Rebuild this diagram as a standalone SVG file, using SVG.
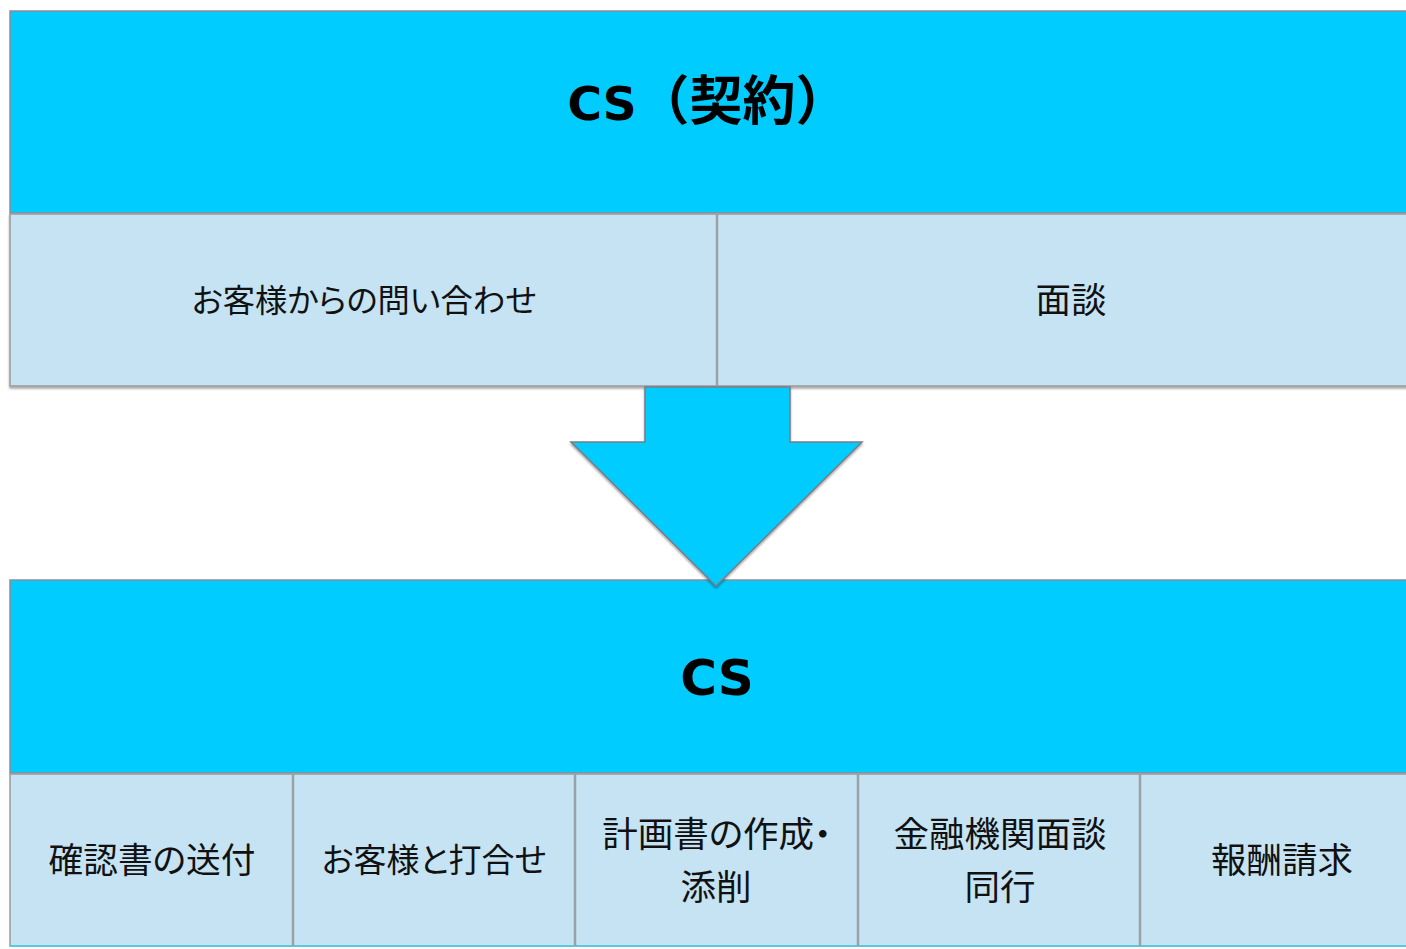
<svg xmlns="http://www.w3.org/2000/svg" width="1406" height="949" viewBox="0 0 1406 949">
<style>
.hdr{fill:#00CCFF;stroke:#8c8c9a;stroke-width:1.5}
.cell{fill:#C5E3F3;stroke:#9a9a9a;stroke-width:1.5}
.div{stroke:#9aa0a6;stroke-width:2.5}
.title{font-family:"DejaVu Sans","Noto Sans CJK JP",sans-serif;font-weight:bold;fill:#000;text-anchor:middle}
.cjk{font-family:"Noto Sans CJK JP",sans-serif}
.lbl{font-family:"Noto Sans CJK JP",sans-serif;font-size:35.5px;fill:#111;text-anchor:middle;font-feature-settings:"palt"}
.arrow{fill:#00CCFF;stroke:#7a7a86;stroke-width:1.5;stroke-linejoin:miter}
</style>
<defs>
<filter id="sh" x="-5%" y="-5%" width="110%" height="115%">
<feDropShadow dx="0" dy="2" stdDeviation="1" flood-color="#000" flood-opacity="0.35"/>
</filter>
</defs>
<rect width="1406" height="949" fill="#fff"/>
<g id="top-block">
<g id="top-header">
<rect class="hdr" x="10" y="11" width="1410" height="202"/>
<text class="title" x="708" y="120"><tspan style="font-size:47px">CS</tspan><tspan class="cjk" style="font-size:53px">（契約）</tspan></text>
</g>
<g id="top-row" filter="url(#sh)">
<rect class="cell" x="10" y="214" width="1410" height="172"/>
</g>
<line class="div" x1="717" y1="214" x2="717" y2="386"/>
<g id="inquiry"><text class="lbl" x="364" y="312" style="font-size:32.3px">お客様からの問い合わせ</text></g>
<g id="meeting"><text class="lbl" x="1071" y="313">面談</text></g>
</g>
<g id="bottom-block">
<g id="bottom-header">
<rect class="hdr" x="10" y="580" width="1410" height="193"/>
<text class="title" x="717" y="695" style="font-size:50px">CS</text>
</g>
<g id="bottom-row">
<rect class="cell" x="10" y="774" width="1410" height="172"/>
<line x1="10" y1="946" x2="1406" y2="946" stroke="#5bc8e0" stroke-width="2"/>
</g>
<line class="div" x1="293" y1="774" x2="293" y2="946"/>
<line class="div" x1="575" y1="774" x2="575" y2="946"/>
<line class="div" x1="858" y1="774" x2="858" y2="946"/>
<line class="div" x1="1140" y1="774" x2="1140" y2="946"/>
<g id="confirm"><text class="lbl" x="152" y="873" style="font-size:34.7px">確認書の送付</text></g>
<g id="consult"><text class="lbl" x="434" y="872" style="font-size:33px">お客様と打合せ</text></g>
<g id="plan"><text class="lbl" x="717" y="847">計画書の作成・</text><text class="lbl" x="716" y="900">添削</text></g>
<g id="bank"><text class="lbl" x="1000" y="847">金融機関面談</text><text class="lbl" x="1000" y="900">同行</text></g>
<g id="fee"><text class="lbl" x="1282" y="873">報酬請求</text></g>
</g>
<g id="connectors">
<polygon class="arrow" filter="url(#sh)" points="645,387 790,387 790,442 862,442 716,586 571,442 645,442"/>
</g>
</svg>
